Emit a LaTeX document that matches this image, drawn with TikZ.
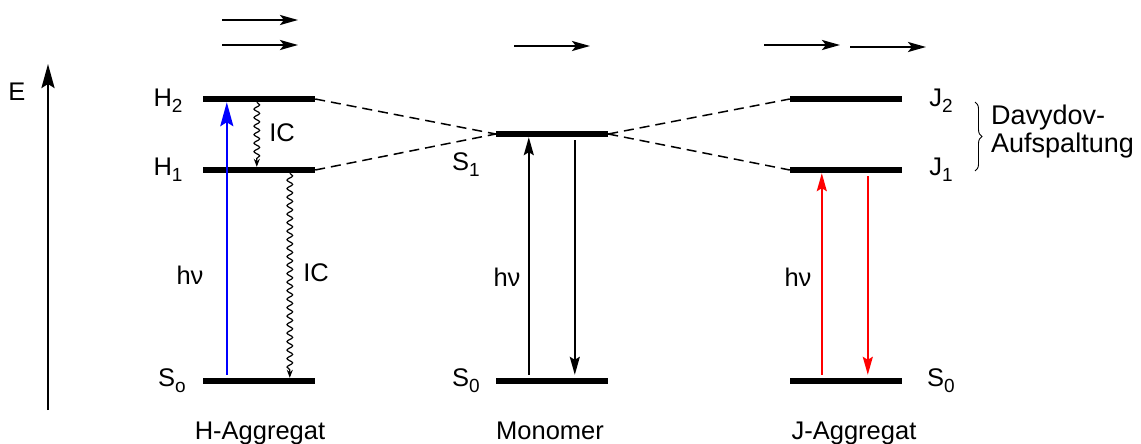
\documentclass[tikz,border=0pt]{standalone}
\usepackage{fontspec}
\setmainfont{Liberation Sans}
\usetikzlibrary{arrows.meta,decorations.pathmorphing,decorations.pathreplacing,calc}
\newcommand\lvsub[1]{\raisebox{-6pt}{\fontsize{19}{19}\selectfont #1}}
\begin{document}
\begin{tikzpicture}[x=1pt,y=-1pt,
  font=\fontsize{25.5}{30}\selectfont,
  level/.style={fill=black,inner sep=0pt,minimum width=112pt,minimum height=6pt},
  lbl/.style={inner sep=0pt},
  dimer/.style={-{Stealth[length=18pt,width=10pt,inset=4pt]},line width=2.5pt},
  trans/.style={-{Stealth[length=18pt,width=10pt,inset=3pt]},line width=2pt},
  bigtrans/.style={-{Stealth[length=24pt,width=13pt,inset=4pt]},line width=2.5pt},
  link/.style={dash pattern=on 10pt off 6pt, line width=1.5pt},
  ic/.style={-{Stealth[length=8pt,width=6pt]},decorate,line width=1.2pt,
    decoration={snake,amplitude=2.8pt,segment length=8.5pt,post length=8pt}},
]
\useasboundingbox (0,0) rectangle (1141,444);

% energy axis
\coordinate (Ebot) at (48,410);
\coordinate (Etop) at (48,64);
\draw[-{Stealth[length=24pt,width=13pt,inset=4pt]},line width=2.5pt] (Ebot) -- (Etop);
\node[lbl] (E) at (17,92) {E};

% levels
\node[level] (H2) at (259,99) {};
\node[level] (H1) at (259,170) {};
\node[level] (HS0) at (259,381) {};
\node[level] (S1) at (552,134) {};
\node[level] (MS0) at (552,381) {};
\node[level] (J2) at (846,99) {};
\node[level] (J1) at (846,170) {};
\node[level] (JS0) at (846,381) {};

% dashed correlation lines
\draw[link] (H2.east) -- (S1.west);
\draw[link] (H1.east) -- (S1.west);
\draw[link] (S1.east) -- (J2.west);
\draw[link] (S1.east) -- (J1.west);

% dipole arrows
\coordinate (ha1) at (222,20); \coordinate (hb1) at (298,20);
\coordinate (ha2) at (222,45); \coordinate (hb2) at (298,45);
\coordinate (ma) at (514,46); \coordinate (mb) at (590,46);
\coordinate (ja1) at (764,45); \coordinate (jb1) at (840,45);
\coordinate (ja2) at (850,47); \coordinate (jb2) at (926,47);
\draw[dimer] (ha1) -- (hb1);
\draw[dimer] (ha2) -- (hb2);
\draw[dimer] (ma) -- (mb);
\draw[dimer] (ja1) -- (jb1);
\draw[dimer] (ja2) -- (jb2);

% H-aggregate transitions
\draw[bigtrans,blue] ($(HS0.north west)+(24,-3)$) -- ($(H2.south west)+(24,0)$);
\draw[ic] ($(H2.south west)+(54,0)$) -- ($(H1.north west)+(54,0)$);
\draw[ic] ($(H1.south west)+(87,0)$) -- ($(HS0.north west)+(87,0)$);

% Monomer transitions
\draw[trans] ($(MS0.north west)+(33,-3)$) -- ($(S1.south west)+(33,0)$);
\draw[trans] ($(S1.south west)+(79,3)$) -- ($(MS0.north west)+(79,-3)$);

% J-aggregate transitions
\draw[trans,red] ($(JS0.north west)+(32,-3)$) -- ($(J1.south west)+(32,0)$);
\draw[trans,red] ($(J1.south west)+(78,3)$) -- ($(JS0.north west)+(78,-3)$);

% labels
\node[lbl] (lH2) at (168,101) {H\lvsub{2}};
\node[lbl] (lH1) at (168,170) {H\lvsub{1}};
\node[lbl] (lHS0) at (172,381) {S\lvsub{o}};
\node[lbl] (lS1) at (466,165) {S\lvsub{1}};
\node[lbl] (lMS0) at (466,381) {S\lvsub{0}};
\node[lbl] (lJ2) at (941,101) {J\lvsub{2}};
\node[lbl] (lJ1) at (941,170) {J\lvsub{1}};
\node[lbl] (lJS0) at (941,381) {S\lvsub{0}};

\node[lbl] (hvH) at (190,275) {hν};
\node[lbl] (hvM) at (507,277) {hν};
\node[lbl] (hvJ) at (798,277) {hν};
\node[lbl] (ic1) at (282,133) {IC};
\node[lbl] (ic2) at (316,273) {IC};

\node[lbl,anchor=base] (nH) at (260,439) {H-Aggregat};
\node[lbl,anchor=base] (nM) at (550,439) {Monomer};
\node[lbl,anchor=base] (nJ) at (854,439) {J-Aggregat};

% Davydov splitting
\coordinate (bt) at (975,102);
\coordinate (bb) at (975,171);
\draw[decorate,decoration={brace,amplitude=7pt},line width=0.9pt] (bt) -- (bb);
\node[lbl,anchor=west,align=left,font=\fontsize{27}{28}\selectfont] (dav) at (991,132) {Davydov-\\Aufspaltung};
\end{tikzpicture}
\end{document}
